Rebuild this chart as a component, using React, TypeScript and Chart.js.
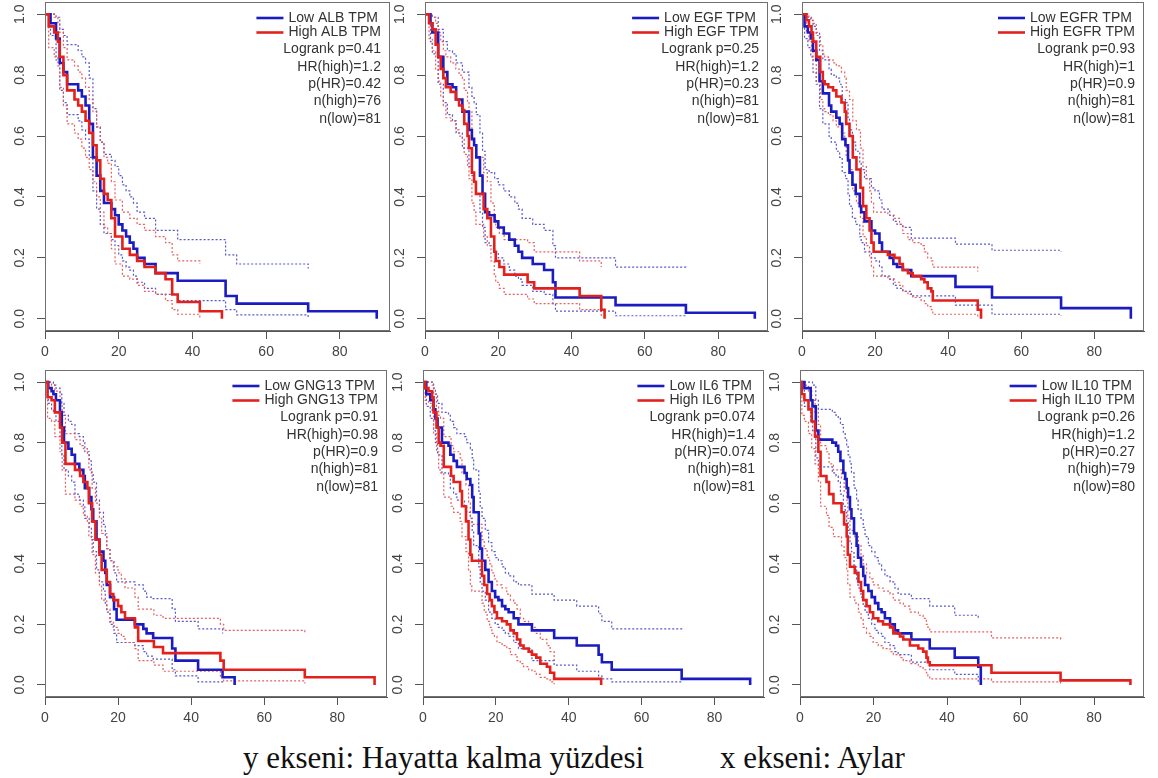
import React, { useEffect, useRef } from "react";
import { Chart, registerables } from "chart.js";

Chart.register(...registerables);

// ---------- axis ticks ----------
const xTicks = [0, 20, 40, 60, 80];
const yTicks = [0, 0.2, 0.4, 0.6, 0.8, 1.0];

// ---------- panel texts ----------
const genes = ["ALB", "EGF", "EGFR", "GNG13", "IL6", "IL10"];
const logrankP = ["0.41", "0.25", "0.93", "0.91", "0.074", "0.26"];
const hrHigh = ["1.2", "1.2", "1", "0.98", "1.4", "1.2"];
const pHR = ["0.42", "0.23", "0.9", "0.9", "0.074", "0.27"];
const nHigh = [76, 81, 81, 81, 81, 79];
const nLow = [81, 81, 81, 81, 81, 80];

// ---------- ALB ----------
const albLowT = [0, 1.5, 3, 4, 5, 6, 9, 10, 11, 12, 13, 14, 15, 16, 18, 19, 20, 21, 22, 23, 24, 25, 27, 30, 36, 49, 52, 71.4, 90];
const albLowS = [1, 0.97, 0.92, 0.84, 0.81, 0.77, 0.75, 0.73, 0.7, 0.64, 0.53, 0.47, 0.42, 0.38, 0.36, 0.34, 0.31, 0.29, 0.27, 0.25, 0.23, 0.2, 0.18, 0.15, 0.125, 0.075, 0.05, 0.025, 0];
const albLowU = [1, 1, 0.99, 0.95, 0.93, 0.9, 0.88, 0.86, 0.84, 0.79, 0.69, 0.63, 0.58, 0.54, 0.52, 0.5, 0.47, 0.44, 0.42, 0.4, 0.38, 0.35, 0.33, 0.29, 0.26, 0.21, 0.18, 0.165];
const albLowL = [1, 0.93, 0.85, 0.75, 0.71, 0.67, 0.65, 0.62, 0.59, 0.53, 0.42, 0.36, 0.31, 0.28, 0.26, 0.24, 0.21, 0.19, 0.17, 0.16, 0.14, 0.12, 0.1, 0.08, 0.06, 0.03, 0.013, 0.005];
const albHighT = [0, 1, 2.5, 3.5, 4, 5, 6, 8, 9, 10, 11, 12, 13, 14, 15, 16, 17, 18, 19, 21, 23, 25, 27, 30, 32.7, 34.5, 36, 42, 48];
const albHighS = [1, 0.96, 0.94, 0.91, 0.86, 0.8, 0.75, 0.72, 0.7, 0.68, 0.65, 0.61, 0.57, 0.52, 0.46, 0.41, 0.39, 0.33, 0.27, 0.23, 0.21, 0.19, 0.17, 0.15, 0.13, 0.08, 0.055, 0.025, 0];
const albHighU = [1, 1, 0.99, 0.97, 0.94, 0.89, 0.85, 0.83, 0.81, 0.79, 0.76, 0.72, 0.68, 0.63, 0.58, 0.53, 0.51, 0.45, 0.39, 0.35, 0.33, 0.31, 0.29, 0.27, 0.25, 0.21, 0.19, 0.18];
const albHighL = [1, 0.89, 0.86, 0.83, 0.76, 0.7, 0.64, 0.61, 0.59, 0.56, 0.53, 0.49, 0.45, 0.4, 0.35, 0.3, 0.28, 0.23, 0.18, 0.14, 0.13, 0.11, 0.09, 0.08, 0.06, 0.03, 0.015, 0.003];

// ---------- EGF ----------
const egfLowT = [0, 1.5, 2, 3.6, 5, 6.1, 7.5, 8.5, 10.2, 12, 12.8, 13.4, 14, 15, 15.7, 16.4, 17.5, 19, 20, 21.5, 23, 24.5, 25.5, 26.5, 29.4, 32.5, 34.9, 35.6, 52, 71.2, 90];
const egfLowS = [1, 0.97, 0.94, 0.86, 0.81, 0.77, 0.76, 0.72, 0.68, 0.62, 0.59, 0.57, 0.53, 0.47, 0.41, 0.35, 0.34, 0.32, 0.3, 0.28, 0.26, 0.24, 0.22, 0.2, 0.18, 0.16, 0.12, 0.07, 0.045, 0.02, 0];
const egfLowU = [1, 1, 0.99, 0.95, 0.91, 0.88, 0.87, 0.84, 0.81, 0.76, 0.73, 0.71, 0.67, 0.61, 0.55, 0.49, 0.48, 0.46, 0.44, 0.42, 0.4, 0.38, 0.36, 0.33, 0.31, 0.29, 0.24, 0.2, 0.17, 0.165];
const egfLowL = [1, 0.91, 0.87, 0.77, 0.71, 0.67, 0.65, 0.61, 0.56, 0.5, 0.47, 0.45, 0.41, 0.35, 0.3, 0.25, 0.24, 0.22, 0.2, 0.18, 0.16, 0.14, 0.13, 0.11, 0.09, 0.08, 0.05, 0.025, 0.01, 0.005];
const egfHighT = [0, 1.1, 2, 2.9, 3.6, 4.3, 5, 5.7, 7, 8.4, 9.3, 10.2, 10.7, 11.6, 12, 12.8, 13.4, 13.9, 16, 17, 18, 18.9, 19.3, 20.3, 21.6, 28, 29.8, 42.2, 48.1, 49];
const egfHighS = [1, 0.97, 0.95, 0.9, 0.86, 0.82, 0.79, 0.76, 0.745, 0.72, 0.7, 0.685, 0.64, 0.6, 0.56, 0.48, 0.45, 0.41, 0.36, 0.33, 0.27, 0.22, 0.19, 0.17, 0.145, 0.12, 0.1, 0.075, 0.03, 0];
const egfHighU = [1, 1, 0.99, 0.97, 0.94, 0.91, 0.88, 0.86, 0.84, 0.82, 0.8, 0.79, 0.75, 0.71, 0.68, 0.6, 0.57, 0.53, 0.48, 0.45, 0.38, 0.33, 0.3, 0.28, 0.26, 0.25, 0.22, 0.19, 0.17];
const egfHighL = [1, 0.92, 0.88, 0.82, 0.78, 0.73, 0.7, 0.66, 0.65, 0.62, 0.6, 0.59, 0.54, 0.5, 0.46, 0.38, 0.35, 0.31, 0.27, 0.24, 0.19, 0.14, 0.12, 0.1, 0.08, 0.065, 0.05, 0.03, 0.005];

// ---------- EGFR ----------
const egfrLowT = [0, 0.7, 1.6, 2.4, 3, 3.9, 4.8, 5.7, 7.4, 8, 9.4, 10.3, 11, 11.9, 12.6, 13, 13.8, 14.7, 15.8, 16.2, 17.1, 19, 20, 21.2, 21.9, 24, 25, 26, 27.6, 29.9, 42, 52, 70.9, 90];
const egfrLowS = [1, 0.96, 0.94, 0.92, 0.88, 0.85, 0.78, 0.74, 0.7, 0.68, 0.66, 0.64, 0.59, 0.57, 0.52, 0.48, 0.44, 0.41, 0.37, 0.35, 0.32, 0.29, 0.28, 0.25, 0.22, 0.2, 0.18, 0.17, 0.16, 0.14, 0.105, 0.07, 0.035, 0];
const egfrLowU = [1, 1, 0.99, 0.98, 0.96, 0.94, 0.88, 0.85, 0.82, 0.8, 0.79, 0.77, 0.72, 0.71, 0.66, 0.62, 0.58, 0.55, 0.51, 0.49, 0.46, 0.43, 0.42, 0.39, 0.36, 0.34, 0.32, 0.31, 0.3, 0.265, 0.245, 0.225, 0.22];
const egfrLowL = [1, 0.92, 0.89, 0.86, 0.81, 0.77, 0.69, 0.64, 0.6, 0.58, 0.55, 0.53, 0.48, 0.46, 0.41, 0.37, 0.33, 0.31, 0.27, 0.25, 0.22, 0.2, 0.19, 0.17, 0.14, 0.13, 0.11, 0.1, 0.09, 0.075, 0.045, 0.015, 0.01];
const egfrHighT = [0, 1.2, 1.9, 2.6, 3, 3.9, 5, 5.7, 6.2, 7.2, 8.5, 9.4, 10.8, 11.7, 12.1, 13, 13.9, 14.9, 16, 16.7, 17.6, 18.5, 19, 19.6, 23.5, 25.3, 26.7, 27.6, 29, 30.3, 32.6, 33.5, 34.4, 35.4, 35.8, 48.1, 49];
const egfrHighS = [1, 0.98, 0.96, 0.94, 0.91, 0.86, 0.81, 0.78, 0.77, 0.76, 0.75, 0.73, 0.71, 0.68, 0.64, 0.6, 0.53, 0.49, 0.43, 0.37, 0.33, 0.29, 0.25, 0.22, 0.21, 0.2, 0.18, 0.16, 0.15, 0.14, 0.13, 0.12, 0.1, 0.09, 0.06, 0.03, 0];
const egfrHighU = [1, 1, 0.99, 0.98, 0.97, 0.93, 0.9, 0.87, 0.86, 0.85, 0.84, 0.83, 0.81, 0.79, 0.75, 0.72, 0.65, 0.62, 0.56, 0.5, 0.46, 0.42, 0.38, 0.35, 0.34, 0.33, 0.31, 0.28, 0.26, 0.25, 0.24, 0.22, 0.2, 0.19, 0.17, 0.155];
const egfrHighL = [1, 0.94, 0.91, 0.88, 0.85, 0.78, 0.72, 0.69, 0.68, 0.67, 0.65, 0.63, 0.61, 0.57, 0.53, 0.49, 0.42, 0.38, 0.33, 0.27, 0.24, 0.2, 0.17, 0.14, 0.13, 0.12, 0.11, 0.09, 0.08, 0.07, 0.06, 0.05, 0.04, 0.03, 0.015, 0.005];

// ---------- GNG13 ----------
const gngLowT = [0, 0.9, 1.8, 2.3, 3, 4.1, 4.6, 5.2, 6.4, 7.3, 8.2, 9.4, 10.5, 10.9, 12.1, 12.7, 13.2, 14.1, 14.9, 16, 16.5, 16.9, 17.8, 18.9, 19.6, 24.6, 26.9, 27.8, 29.6, 34.8, 35.7, 41.9, 48.6, 51.9];
const gngLowS = [1, 0.98, 0.97, 0.96, 0.94, 0.9, 0.85, 0.8, 0.78, 0.76, 0.73, 0.71, 0.69, 0.65, 0.62, 0.58, 0.54, 0.48, 0.44, 0.41, 0.37, 0.33, 0.29, 0.25, 0.215, 0.2, 0.185, 0.17, 0.155, 0.12, 0.08, 0.05, 0.025, 0];
const gngLowU = [1, 1, 1, 0.99, 0.98, 0.96, 0.93, 0.89, 0.87, 0.86, 0.83, 0.82, 0.8, 0.77, 0.74, 0.7, 0.67, 0.61, 0.57, 0.53, 0.49, 0.45, 0.41, 0.37, 0.34, 0.33, 0.31, 0.29, 0.285, 0.25, 0.21, 0.185, 0.17];
const gngLowL = [1, 0.93, 0.91, 0.9, 0.87, 0.82, 0.76, 0.71, 0.69, 0.67, 0.63, 0.61, 0.59, 0.55, 0.52, 0.48, 0.44, 0.38, 0.34, 0.31, 0.27, 0.24, 0.2, 0.17, 0.14, 0.13, 0.11, 0.095, 0.085, 0.05, 0.03, 0.01, 0.005];
const gngHighT = [0, 0.7, 1.8, 2.7, 4.1, 4.7, 5.6, 8.2, 9.6, 10.5, 11.6, 12, 12.9, 13.8, 14.9, 15.5, 16.9, 17.8, 18.7, 20, 20.9, 21.9, 24.6, 25.5, 29.8, 32.3, 48, 48.9, 71.1, 90.2];
const gngHighS = [1, 0.95, 0.94, 0.9, 0.85, 0.8, 0.73, 0.71, 0.69, 0.67, 0.65, 0.6, 0.54, 0.48, 0.43, 0.38, 0.34, 0.3, 0.28, 0.26, 0.24, 0.22, 0.19, 0.145, 0.125, 0.105, 0.08, 0.05, 0.025, 0];
const gngHighU = [1, 1, 0.99, 0.97, 0.93, 0.89, 0.83, 0.81, 0.79, 0.78, 0.76, 0.71, 0.65, 0.6, 0.55, 0.5, 0.45, 0.41, 0.39, 0.37, 0.35, 0.32, 0.29, 0.25, 0.23, 0.22, 0.2, 0.18, 0.17];
const gngHighL = [1, 0.88, 0.87, 0.82, 0.77, 0.71, 0.63, 0.61, 0.59, 0.56, 0.54, 0.49, 0.43, 0.37, 0.33, 0.28, 0.25, 0.21, 0.19, 0.17, 0.16, 0.14, 0.12, 0.08, 0.065, 0.045, 0.025, 0.013, 0.005];

// ---------- IL6 ----------
const il6LowT = [0, 0.9, 2, 2.9, 3.4, 4, 5.2, 7, 7.5, 8.4, 9.3, 11.4, 12, 13, 13.5, 13.9, 15.3, 15.7, 16.2, 17.1, 18, 18.9, 19.8, 20.7, 21.7, 22.6, 23.5, 24.9, 26.2, 29.9, 36, 42.2, 48.2, 49.1, 51.8, 71, 89.8];
const il6LowS = [1, 0.96, 0.94, 0.91, 0.88, 0.85, 0.8, 0.79, 0.76, 0.74, 0.72, 0.7, 0.68, 0.66, 0.62, 0.57, 0.5, 0.45, 0.41, 0.38, 0.34, 0.31, 0.29, 0.28, 0.26, 0.25, 0.24, 0.22, 0.2, 0.18, 0.155, 0.13, 0.1, 0.075, 0.05, 0.02, 0];
const il6LowU = [1, 1, 1, 0.98, 0.96, 0.93, 0.9, 0.89, 0.87, 0.85, 0.83, 0.82, 0.8, 0.78, 0.75, 0.71, 0.64, 0.59, 0.55, 0.51, 0.47, 0.44, 0.42, 0.41, 0.39, 0.37, 0.36, 0.34, 0.33, 0.3, 0.28, 0.26, 0.235, 0.21, 0.185, 0.18];
const il6LowL = [1, 0.92, 0.88, 0.84, 0.8, 0.76, 0.7, 0.69, 0.65, 0.63, 0.61, 0.59, 0.57, 0.55, 0.51, 0.46, 0.39, 0.34, 0.31, 0.28, 0.24, 0.22, 0.2, 0.19, 0.18, 0.17, 0.16, 0.14, 0.12, 0.08, 0.065, 0.045, 0.03, 0.02, 0.01, 0.005];
const il6HighT = [0, 0.6, 1.5, 2.5, 2.9, 3.7, 4.3, 4.8, 5.7, 7.7, 8.4, 10.2, 10.7, 11.8, 12.5, 13, 13.4, 16.2, 16.8, 17.6, 18.3, 18.9, 19.6, 20.3, 21.7, 23, 24, 24.9, 25.8, 26.7, 27.6, 29, 29.9, 31.1, 32.2, 34, 34.9, 36, 48.9];
const il6HighS = [1, 0.98, 0.97, 0.95, 0.9, 0.85, 0.8, 0.79, 0.72, 0.69, 0.67, 0.64, 0.59, 0.54, 0.48, 0.43, 0.41, 0.36, 0.33, 0.3, 0.28, 0.26, 0.24, 0.22, 0.21, 0.2, 0.18, 0.17, 0.15, 0.13, 0.12, 0.11, 0.1, 0.09, 0.07, 0.06, 0.04, 0.02, 0];
const il6HighU = [1, 1, 1, 0.99, 0.96, 0.92, 0.89, 0.88, 0.82, 0.79, 0.77, 0.75, 0.7, 0.66, 0.6, 0.55, 0.53, 0.48, 0.45, 0.42, 0.4, 0.37, 0.35, 0.33, 0.32, 0.3, 0.28, 0.27, 0.25, 0.22, 0.21, 0.2, 0.19, 0.17, 0.15, 0.13, 0.11, 0.08];
const il6HighL = [1, 0.94, 0.93, 0.9, 0.83, 0.77, 0.71, 0.7, 0.62, 0.59, 0.57, 0.54, 0.49, 0.44, 0.38, 0.33, 0.31, 0.27, 0.24, 0.21, 0.19, 0.17, 0.16, 0.14, 0.13, 0.12, 0.1, 0.1, 0.08, 0.07, 0.06, 0.05, 0.045, 0.035, 0.025, 0.02, 0.01, 0.002];

// ---------- IL10 ----------
const il10LowT = [0, 1.2, 2.9, 3.4, 4.3, 5, 8.8, 9.8, 10.4, 11, 11.8, 12.3, 12.7, 13.1, 13.6, 14, 14.7, 15.4, 15.8, 16.6, 17.2, 17.7, 18.6, 19.5, 20.4, 21.3, 22.2, 23.1, 24.5, 25.8, 26.7, 30.3, 35.3, 42.1, 48.5, 49.2];
const il10LowS = [1, 0.98, 0.94, 0.92, 0.84, 0.81, 0.8, 0.79, 0.77, 0.74, 0.7, 0.68, 0.65, 0.62, 0.58, 0.55, 0.5, 0.46, 0.42, 0.39, 0.36, 0.33, 0.31, 0.29, 0.27, 0.25, 0.24, 0.22, 0.2, 0.18, 0.17, 0.15, 0.12, 0.09, 0.06, 0];
const il10LowU = [1, 1, 1, 0.99, 0.94, 0.91, 0.9, 0.89, 0.88, 0.86, 0.83, 0.81, 0.79, 0.76, 0.73, 0.7, 0.65, 0.61, 0.58, 0.55, 0.52, 0.49, 0.46, 0.44, 0.42, 0.4, 0.38, 0.36, 0.34, 0.32, 0.3, 0.285, 0.26, 0.23, 0.22];
const il10LowL = [1, 0.92, 0.87, 0.84, 0.75, 0.72, 0.7, 0.69, 0.67, 0.63, 0.59, 0.57, 0.54, 0.51, 0.47, 0.44, 0.39, 0.35, 0.32, 0.29, 0.26, 0.24, 0.22, 0.2, 0.18, 0.17, 0.16, 0.14, 0.13, 0.11, 0.1, 0.075, 0.05, 0.035, 0.01];
const il10HighT = [0, 0.5, 1.2, 2.3, 3.2, 4.1, 5, 5.6, 7.2, 7.9, 9.1, 11.3, 12, 12.7, 13, 13.6, 14.9, 15.9, 16.6, 17.2, 18.1, 19, 19.9, 21.3, 22.6, 24.5, 25.4, 27.2, 28.1, 29.9, 32.2, 33.5, 34.4, 34.8, 35.3, 52.1, 70.9, 89.9];
const il10HighS = [1, 0.96, 0.94, 0.91, 0.87, 0.82, 0.77, 0.69, 0.67, 0.63, 0.6, 0.57, 0.53, 0.49, 0.43, 0.39, 0.37, 0.34, 0.31, 0.28, 0.26, 0.24, 0.22, 0.21, 0.2, 0.19, 0.17, 0.16, 0.15, 0.13, 0.12, 0.11, 0.09, 0.075, 0.065, 0.04, 0.015, 0];
const il10HighU = [1, 1, 0.99, 0.97, 0.94, 0.9, 0.86, 0.79, 0.77, 0.73, 0.71, 0.68, 0.64, 0.61, 0.55, 0.51, 0.49, 0.46, 0.43, 0.4, 0.37, 0.35, 0.33, 0.32, 0.31, 0.3, 0.28, 0.27, 0.26, 0.24, 0.23, 0.22, 0.2, 0.19, 0.175, 0.155, 0.15];
const il10HighL = [1, 0.89, 0.87, 0.83, 0.78, 0.73, 0.67, 0.59, 0.56, 0.52, 0.49, 0.46, 0.42, 0.38, 0.33, 0.29, 0.27, 0.24, 0.22, 0.19, 0.17, 0.16, 0.14, 0.13, 0.12, 0.11, 0.1, 0.09, 0.08, 0.07, 0.06, 0.05, 0.04, 0.03, 0.02, 0.01, 0.005];

const lowCurves = [
  [albLowT, albLowS, albLowU, albLowL],
  [egfLowT, egfLowS, egfLowU, egfLowL],
  [egfrLowT, egfrLowS, egfrLowU, egfrLowL],
  [gngLowT, gngLowS, gngLowU, gngLowL],
  [il6LowT, il6LowS, il6LowU, il6LowL],
  [il10LowT, il10LowS, il10LowU, il10LowL],
];
const highCurves = [
  [albHighT, albHighS, albHighU, albHighL],
  [egfHighT, egfHighS, egfHighU, egfHighL],
  [egfrHighT, egfrHighS, egfrHighU, egfrHighL],
  [gngHighT, gngHighS, gngHighU, gngHighL],
  [il6HighT, il6HighS, il6HighU, il6HighL],
  [il10HighT, il10HighS, il10HighU, il10HighL],
];

// ---------- layout / style ----------
const X_MIN = 0;
const X_MAX = 93.6;
const Y_MIN = -0.04;
const Y_MAX = 1.04;
const frameLeft = [45, 425, 802, 45, 423, 800];
const frameRight = [390, 768, 1144, 387, 764, 1144];
const rowTop = [2, 370];
const rowBottom = [331, 697];
const AXIS_W = 45;
const AXIS_H = 36;
const PAD_T = 2;
const PAD_R = 6;
const BLUE = "#1b1bc2";
const RED = "#e2211d";
const BLUE_CI = "rgba(70,70,200,0.9)";
const RED_CI = "rgba(226,80,80,0.9)";
const SANS = "'Liberation Sans', Arial, Helvetica, sans-serif";

const decorPlugin = {
  id: "kmDecor",
  afterDraw(chart: any, _args: any, opts: any) {
    const idx = opts.idx as number;
    const { ctx, chartArea: a } = chart;
    const yScale = chart.scales.y;
    ctx.save();
    // frame box
    ctx.strokeStyle = "#707070";
    ctx.lineWidth = 1;
    ctx.strokeRect(a.left + 0.5, a.top + 0.5, a.right - a.left - 1, a.bottom - a.top - 1);
    // rotated y tick labels
    ctx.font = `14px ${SANS}`;
    ctx.fillStyle = "#444";
    ctx.textAlign = "center";
    ctx.textBaseline = "middle";
    yTicks.forEach((v) => {
      const py = yScale.getPixelForValue(v);
      ctx.save();
      ctx.translate(a.left - 25, py);
      ctx.rotate(-Math.PI / 2);
      ctx.fillText(v.toFixed(1), 0, 0);
      ctx.restore();
    });
    // legend
    const right = a.right - 9;
    const names = [`Low ${genes[idx]} TPM`, `High ${genes[idx]} TPM`];
    const w = Math.max(...names.map((n) => ctx.measureText(n).width));
    const left = right - w;
    const rows = [a.top + 16, a.top + 30.5];
    ctx.fillStyle = "#333";
    names.forEach((n, i) => {
      ctx.strokeStyle = i === 0 ? BLUE : RED;
      ctx.lineWidth = 2.6;
      ctx.beginPath();
      ctx.moveTo(left - 32, rows[i]);
      ctx.lineTo(left - 5, rows[i]);
      ctx.stroke();
      ctx.textAlign = "left";
      ctx.fillText(n, left, rows[i]);
    });
    const stats = [
      `Logrank p=${logrankP[idx]}`,
      `HR(high)=${hrHigh[idx]}`,
      `p(HR)=${pHR[idx]}`,
      `n(high)=${nHigh[idx]}`,
      `n(low)=${nLow[idx]}`,
    ];
    ctx.textAlign = "right";
    stats.forEach((s, i) => ctx.fillText(s, right, a.top + 47.5 + 17.3 * i));
    ctx.restore();
  },
};

function Panel({ idx }: { idx: number }) {
  const ref = useRef<HTMLCanvasElement | null>(null);
  const row = Math.floor(idx / 3);
  const L = frameLeft[idx];
  const R = frameRight[idx];
  const T = rowTop[row];
  const B = rowBottom[row];
  const cw = R - L + AXIS_W + PAD_R;
  const ch = B - T + PAD_T + AXIS_H;

  useEffect(() => {
    if (!ref.current) return;
    const [lt, ls, lu, ll] = lowCurves[idx];
    const [ht, hs, hu, hl] = highCurves[idx];
    const pts = (t: number[], v: number[]) => v.map((y, i) => ({ x: t[i], y }));
    const main = (data: any[], color: string) => ({
      data,
      borderColor: color,
      borderWidth: 2.6,
      stepped: true,
      pointRadius: 0,
      fill: false,
    });
    const ci = (data: any[], color: string) => ({
      data,
      borderColor: color,
      borderWidth: 1.2,
      borderDash: [2, 2],
      stepped: true,
      pointRadius: 0,
      fill: false,
    });
    const gridOpts = {
      drawOnChartArea: false,
      drawTicks: true,
      tickLength: 8,
      color: "#555",
    };
    const chart = new Chart(ref.current, {
      type: "line",
      data: {
        datasets: [
          main(pts(ht, hs), RED),
          main(pts(lt, ls), BLUE),
          ci(pts(ht, hu), RED_CI),
          ci(pts(ht, hl), RED_CI),
          ci(pts(lt, lu), BLUE_CI),
          ci(pts(lt, ll), BLUE_CI),
        ],
      },
      options: {
        animation: false,
        responsive: false,
        maintainAspectRatio: false,
        events: [],
        layout: { padding: { top: PAD_T, right: PAD_R, left: 0, bottom: 0 } },
        plugins: {
          legend: { display: false },
          tooltip: { enabled: false },
          kmDecor: { idx },
        } as any,
        scales: {
          x: {
            type: "linear",
            min: X_MIN,
            max: X_MAX,
            afterBuildTicks: (s: any) => {
              s.ticks = xTicks.map((v) => ({ value: v }));
            },
            afterFit: (s: any) => {
              s.height = AXIS_H;
            },
            grid: gridOpts,
            border: { display: true, color: "#555" },
            ticks: {
              color: "#444",
              font: { size: 14, family: SANS },
              padding: 5,
              maxRotation: 0,
              autoSkip: false,
              callback: (v: any) => String(v),
            },
          },
          y: {
            type: "linear",
            min: Y_MIN,
            max: Y_MAX,
            afterBuildTicks: (s: any) => {
              s.ticks = yTicks.map((v) => ({ value: v }));
            },
            afterFit: (s: any) => {
              s.width = AXIS_W;
            },
            grid: gridOpts,
            border: { display: true, color: "#555" },
            ticks: { display: false },
          },
        },
      } as any,
      plugins: [decorPlugin],
    });
    return () => chart.destroy();
  }, [idx]);

  return (
    <canvas
      ref={ref}
      width={cw}
      height={ch}
      style={{
        position: "absolute",
        left: L - AXIS_W,
        top: T - PAD_T,
        width: cw,
        height: ch,
      }}
    />
  );
}

const captionStyle: React.CSSProperties = {
  position: "absolute",
  top: 742,
  font: "31px 'Liberation Serif', 'Times New Roman', serif",
  lineHeight: "31px",
  whiteSpace: "nowrap",
  color: "#111",
};

export default function App() {
  return (
    <div
      style={{
        position: "absolute",
        left: 0,
        top: 0,
        width: 1158,
        height: 778,
        background: "#ffffff",
        overflow: "hidden",
      }}
    >
      {genes.map((g, i) => (
        <Panel key={g} idx={i} />
      ))}
      <div style={{ ...captionStyle, left: 243 }}>y ekseni: Hayatta kalma yüzdesi</div>
      <div style={{ ...captionStyle, left: 720 }}>x ekseni: Aylar</div>
    </div>
  );
}
